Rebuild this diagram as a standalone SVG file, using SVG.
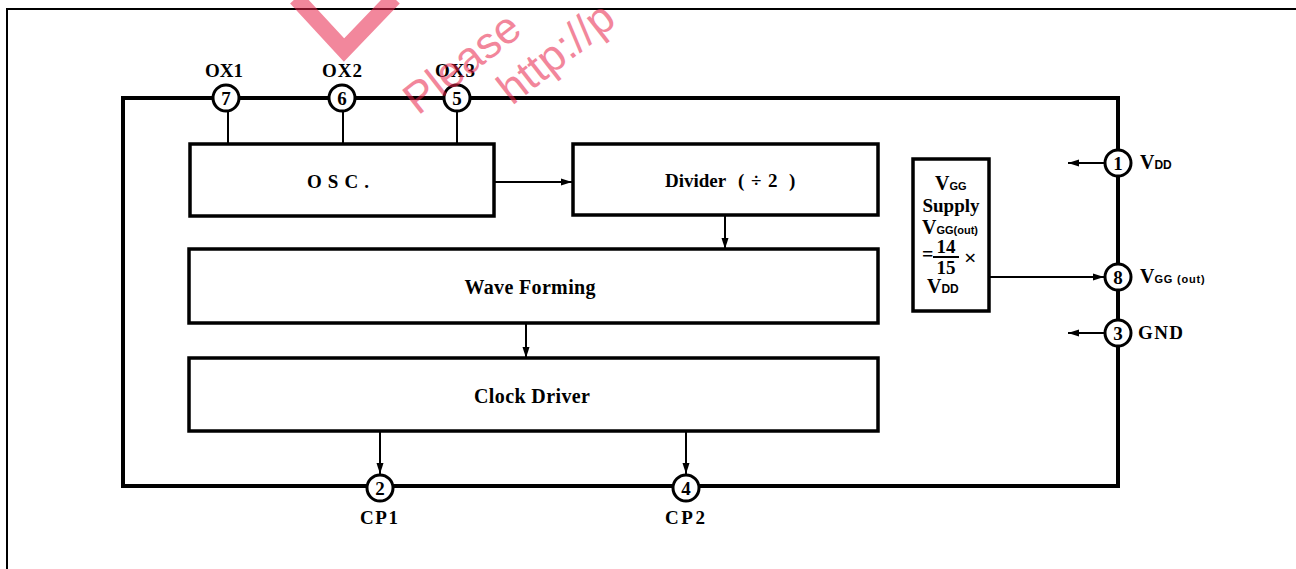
<svg xmlns="http://www.w3.org/2000/svg" width="1296" height="569" viewBox="0 0 1296 569">
<style>
.blk{fill:#fff;stroke:#000;stroke-width:3.5}
.frame{fill:none;stroke:#000;stroke-width:4}
.pin{fill:#fff;stroke:#000;stroke-width:3}
.wire{fill:none;stroke:#000;stroke-width:2}
.t{font-family:"Liberation Serif","Times New Roman",serif;font-weight:bold;fill:#000}
.n{font-family:"Liberation Serif","Times New Roman",serif;font-weight:bold;font-size:19px;text-anchor:middle;fill:#000}
.s{font-family:"Liberation Sans",Arial,sans-serif;font-weight:bold}
.wm{font-family:"Liberation Sans",Arial,sans-serif;font-size:44px;fill:#e8244a;opacity:0.55}
</style>
<defs>
<marker id="ah" markerUnits="userSpaceOnUse" markerWidth="11" markerHeight="8" refX="11" refY="4" orient="auto">
<path d="M0,0.5 L11,4 L0,7.5 z" fill="#000"/>
</marker>
</defs>
<path d="M7,569 L7,9 L1296,9" fill="none" stroke="#000" stroke-width="2"/>
<g id="package">
<rect class="frame" x="123" y="98" width="995" height="388"/>
</g>
<g id="connectors">
<line class="wire" x1="228" y1="111" x2="228" y2="144"/>
<line class="wire" x1="343" y1="111" x2="343" y2="144"/>
<line class="wire" x1="457" y1="111" x2="457" y2="144"/>
<line class="wire" x1="494" y1="182" x2="572" y2="182" marker-end="url(#ah)"/>
<line class="wire" x1="725" y1="216" x2="725" y2="249" marker-end="url(#ah)"/>
<line class="wire" x1="526" y1="323" x2="526" y2="358" marker-end="url(#ah)"/>
<line class="wire" x1="380" y1="431" x2="380" y2="474" marker-end="url(#ah)"/>
<line class="wire" x1="686" y1="431" x2="686" y2="474" marker-end="url(#ah)"/>
<line class="wire" x1="990" y1="277" x2="1104" y2="277" marker-end="url(#ah)"/>
<line class="wire" x1="1104" y1="163" x2="1068" y2="163" marker-end="url(#ah)"/>
<line class="wire" x1="1104" y1="333" x2="1068" y2="333" marker-end="url(#ah)"/>
</g>
<g id="osc">
<rect class="blk" x="190" y="144" width="304" height="72"/>
<text class="t" x="338" y="188" font-size="19" text-anchor="middle" textLength="62" lengthAdjust="spacing">OSC.</text>
</g>
<g id="divider">
<rect class="blk" x="573" y="144" width="305" height="71"/>
<text class="t" x="665" y="187" font-size="19">Divider<tspan x="738">(</tspan><tspan x="751">÷</tspan><tspan x="768">2</tspan><tspan x="789">)</tspan></text>
</g>
<g id="wave-forming">
<rect class="blk" x="189" y="249" width="689" height="74"/>
<text class="t" x="530" y="294" font-size="20" text-anchor="middle" textLength="131" lengthAdjust="spacing">Wave Forming</text>
</g>
<g id="clock-driver">
<rect class="blk" x="189" y="358" width="689" height="73"/>
<text class="t" x="532" y="403" font-size="20" text-anchor="middle" textLength="116" lengthAdjust="spacing">Clock Driver</text>
</g>
<g id="vgg-supply">
<rect class="blk" x="913" y="159" width="76" height="152"/>
<text class="t" x="935" y="190" font-size="20">V<tspan class="s" font-size="11">GG</tspan></text>
<text class="t" x="951" y="212" font-size="19" text-anchor="middle">Supply</text>
<text class="t" x="922" y="234" font-size="20">V<tspan class="s" font-size="11">GG(out)</tspan></text>
<text class="t" x="922" y="261" font-size="20">=</text>
<text class="t" x="946" y="253" font-size="19" text-anchor="middle">14</text>
<line x1="933" y1="257" x2="959" y2="257" stroke="#000" stroke-width="2"/>
<text class="t" x="946" y="274" font-size="19" text-anchor="middle">15</text>
<text class="t" x="964" y="265" font-size="22">×</text>
<text class="t" x="927" y="293" font-size="20">V<tspan class="s" font-size="12">DD</tspan></text>
</g>
<g id="pin7">
<circle class="pin" cx="226" cy="98" r="13"/>
<text class="n" x="226" y="105">7</text>
<text class="t" x="224" y="77" font-size="19" text-anchor="middle" textLength="38" lengthAdjust="spacing">OX1</text>
</g>
<g id="pin6">
<circle class="pin" cx="342" cy="98" r="13"/>
<text class="n" x="342" y="105">6</text>
<text class="t" x="342" y="77" font-size="19" text-anchor="middle" textLength="40" lengthAdjust="spacing">OX2</text>
</g>
<g id="pin5">
<circle class="pin" cx="457" cy="98" r="13"/>
<text class="n" x="457" y="105">5</text>
<text class="t" x="455" y="77" font-size="19" text-anchor="middle" textLength="40" lengthAdjust="spacing">OX3</text>
</g>
<g id="pin1">
<circle class="pin" cx="1118" cy="163" r="13"/>
<text class="n" x="1118" y="170">1</text>
<text class="t" x="1140" y="169" font-size="20">V<tspan class="s" font-size="12">DD</tspan></text>
</g>
<g id="pin8">
<circle class="pin" cx="1118" cy="277" r="13"/>
<text class="n" x="1118" y="284">8</text>
<text class="t" x="1140" y="283" font-size="20">V<tspan class="s" font-size="11" letter-spacing="0.8">GG (out)</tspan></text>
</g>
<g id="pin3">
<circle class="pin" cx="1118" cy="333" r="13"/>
<text class="n" x="1118" y="340">3</text>
<text class="t" x="1138" y="339" font-size="19" textLength="45" lengthAdjust="spacing">GND</text>
</g>
<g id="pin2">
<circle class="pin" cx="380" cy="488" r="13"/>
<text class="n" x="380" y="495">2</text>
<text class="t" x="379" y="524" font-size="19" text-anchor="middle" textLength="38" lengthAdjust="spacing">CP1</text>
</g>
<g id="pin4">
<circle class="pin" cx="686" cy="488" r="13"/>
<text class="n" x="686" y="495">4</text>
<text class="t" x="685" y="524" font-size="19" text-anchor="middle" textLength="40" lengthAdjust="spacing">CP2</text>
</g>
<g id="watermark">
<path d="M296,-2 L344,50 L394,-2" fill="none" stroke="#e8244a" stroke-width="16" opacity="0.55"/>
<text class="wm" transform="translate(418,116) rotate(-38)">Please</text>
<text class="wm" transform="translate(512,106) rotate(-38)">http://p</text>
</g>
</svg>
